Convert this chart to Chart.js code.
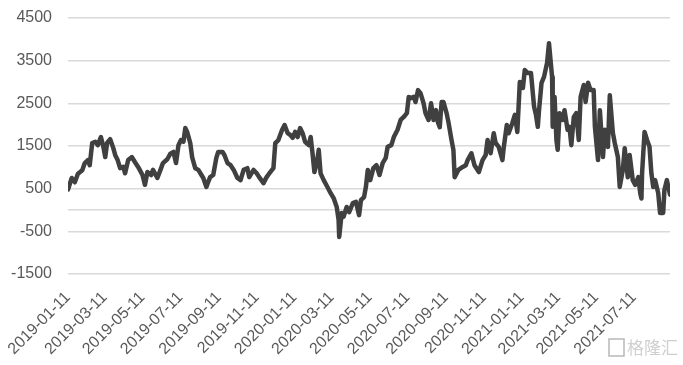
<!DOCTYPE html>
<html>
<head>
<meta charset="utf-8">
<script src="https://cdn.jsdelivr.net/npm/chart.js@4/dist/chart.umd.min.js"></script>
<style>
  html, body { margin: 0; padding: 0; background: #fff; }
  #wrap { width: 683px; height: 365px; position: relative; }
</style>
</head>
<body>
<div id="wrap"><canvas id="myChart" width="683" height="365"></canvas></div>
<script>
const startDate = '2019-01-11';

// dates
const dates = [
  '2019-01-11','2019-01-17','2019-01-22','2019-01-27','2019-02-03','2019-02-07','2019-02-12','2019-02-15','2019-02-19','2019-02-24',
  '2019-02-28','2019-03-05','2019-03-09','2019-03-12','2019-03-15','2019-03-20','2019-03-25','2019-03-28','2019-04-01','2019-04-05',
  '2019-04-10','2019-04-13','2019-04-18','2019-04-24','2019-04-29','2019-05-04','2019-05-11','2019-05-15','2019-05-19','2019-05-25',
  '2019-05-28','2019-06-04','2019-06-09','2019-06-13','2019-06-20','2019-06-25','2019-06-30','2019-07-04','2019-07-08','2019-07-12',
  '2019-07-16','2019-07-19','2019-07-22','2019-07-27','2019-07-30','2019-08-04','2019-08-09','2019-08-14','2019-08-17','2019-08-22',
  '2019-08-25','2019-08-28','2019-09-02','2019-09-07','2019-09-10','2019-09-17','2019-09-20','2019-09-25','2019-09-30','2019-10-05',
  '2019-10-11','2019-10-16','2019-10-21','2019-10-27','2019-10-30','2019-11-06','2019-11-11','2019-11-15','2019-11-22','2019-11-27',
  '2019-12-01','2019-12-08','2019-12-11','2019-12-16','2019-12-22','2019-12-26','2019-12-31','2020-01-04','2020-01-08','2020-01-12',
  '2020-01-16','2020-01-20','2020-01-24','2020-01-28','2020-02-03','2020-02-06','2020-02-09','2020-02-12','2020-02-16','2020-02-19',
  '2020-02-22','2020-02-27','2020-03-04','2020-03-09','2020-03-14','2020-03-19','2020-03-22','2020-03-23','2020-03-27','2020-03-30',
  '2020-04-04','2020-04-08','2020-04-14','2020-04-19','2020-04-24','2020-04-27','2020-05-02','2020-05-05','2020-05-08','2020-05-12',
  '2020-05-17','2020-05-22','2020-05-27','2020-06-01','2020-06-06','2020-06-09','2020-06-15','2020-06-19','2020-06-25','2020-06-30',
  '2020-07-05','2020-07-10','2020-07-13','2020-07-16','2020-07-21','2020-07-24','2020-07-28','2020-08-01','2020-08-06','2020-08-09',
  '2020-08-14','2020-08-18','2020-08-22','2020-08-26','2020-08-29','2020-09-01','2020-09-04','2020-09-07','2020-09-12','2020-09-15',
  '2020-09-20','2020-09-23','2020-09-25','2020-10-01','2020-10-08','2020-10-13','2020-10-16','2020-10-22','2020-10-27','2020-11-03',
  '2020-11-09','2020-11-14','2020-11-17','2020-11-22','2020-11-27','2020-11-30','2020-12-05','2020-12-11','2020-12-13','2020-12-18',
  '2020-12-21','2020-12-27','2020-12-31','2021-01-04','2021-01-08','2021-01-13','2021-01-16','2021-01-21','2021-01-26','2021-01-31',
  '2021-02-03','2021-02-06','2021-02-08','2021-02-12','2021-02-16','2021-02-21','2021-02-24','2021-02-25','2021-03-01','2021-03-02',
  '2021-03-05','2021-03-08','2021-03-10','2021-03-13','2021-03-18','2021-03-21','2021-03-26','2021-03-29','2021-04-01','2021-04-05',
  '2021-04-09','2021-04-13','2021-04-16','2021-04-21','2021-04-24','2021-04-28','2021-05-02','2021-05-07','2021-05-09','2021-05-14',
  '2021-05-17','2021-05-22','2021-05-25','2021-05-30','2021-06-02','2021-06-07','2021-06-10','2021-06-15','2021-06-18','2021-06-23',
  '2021-06-26','2021-07-01','2021-07-04','2021-07-09','2021-07-13','2021-07-18','2021-07-21','2021-07-23','2021-07-24','2021-07-28',
  '2021-08-01','2021-08-05','2021-08-08','2021-08-11','2021-08-14','2021-08-19','2021-08-22','2021-08-27','2021-08-29','2021-09-02',
  '2021-09-07'
];

const values = [
  480, 750, 650, 850, 930, 1100, 1170, 1050, 1570, 1600,
  1520, 1710, 1480, 1240, 1570, 1660, 1450, 1290, 1170, 980,
  1010, 860, 1170, 1240, 1120, 1010, 820, 590, 890, 820,
  940, 750, 940, 1100, 1190, 1320, 1360, 1100, 1520, 1640,
  1600, 1920, 1830, 1570, 1240, 980, 940, 820, 750, 540,
  660, 770, 820, 1220, 1360, 1360, 1290, 1100, 1050, 940,
  750, 700, 940, 980, 770, 940, 860, 770, 630, 770,
  850, 980, 1570, 1640, 1880, 1990, 1800, 1760, 1690, 1830,
  1710, 1920, 1800, 1600, 1520, 1710, 1330, 890, 1100, 1410,
  860, 700, 540, 400, 280, 70, -230, -630, -70, -160,
  70, -50, 160, 190, -120, 230, 300, 540, 940, 700,
  980, 1050, 820, 1100, 1220, 1480, 1520, 1710, 1880, 2110,
  2180, 2270, 2650, 2620, 2650, 2530, 2810, 2740, 2500, 2270,
  2110, 2500, 2110, 2340, 2060, 1940, 2530, 2530, 2270, 2060,
  1640, 1410, 770, 940, 1010, 1050, 1170, 1330, 1050, 890,
  1170, 1290, 1640, 1330, 1800, 1570, 1480, 1170, 1450, 1990,
  1800, 2040, 2230, 1830, 3000, 2860, 3280, 3210, 3210, 2420,
  2230, 1950, 2340, 2980, 3120, 3450, 3910, 3750, 3120, 1950,
  2650, 1640, 1410, 2270, 2110, 2340, 1880, 1950, 1520, 2180,
  2270, 1640, 2650, 2930, 2530, 2980, 2810, 2810, 1950, 1170,
  2340, 1240, 1880, 1480, 2690, 1800, 1570, 1240, 540, 940,
  1450, 770, 1290, 700, 590, 770, 400, 270, 860, 1830,
  1640, 1480, 860, 540, 700, 400, -70, -70, 470, 700,
  360
];

// x axis tick labels, every two months
const tickDates = [
  '2019-01-11','2019-03-11','2019-05-11','2019-07-11','2019-09-11','2019-11-11',
  '2020-01-11','2020-03-11','2020-05-11','2020-07-11','2020-09-11','2020-11-11',
  '2021-01-11','2021-03-11','2021-05-11','2021-07-11'
];

// y axis gridlines (0 is the unlabelled axis line)
const yTicks = [-1500, -500, 0, 500, 1500, 2500, 3500, 4500];

const dayOf = d => (Date.parse(d) - Date.parse(startDate)) / 86400000;

// watermark in the bottom right corner
const watermark = {
  id: 'watermark',
  afterDraw(chart) {
    const ctx = chart.ctx;
    ctx.save();
    ctx.strokeStyle = '#b8b8b8';
    ctx.lineWidth = 1.5;
    ctx.strokeRect(609, 339, 15, 17);
    ctx.font = '17px "Noto Sans CJK SC"';
    ctx.fillStyle = '#cfcfcf';
    ctx.textBaseline = 'middle';
    ctx.fillText('格隆汇', 627, 348);
    ctx.restore();
  }
};

const ctx = document.getElementById('myChart').getContext('2d');
new Chart(ctx, {
  type: 'line',
  data: {
    datasets: [{
      data: dates.map((d, i) => ({ x: dayOf(d), y: values[i] })),
      borderColor: '#404040',
      borderWidth: 4.5,
      pointRadius: 0,
      tension: 0,
      borderJoinStyle: 'round',
      borderCapStyle: 'round'
    }]
  },
  options: {
    responsive: false,
    animation: false,
    layout: { padding: { top: 18, right: 13, left: 0, bottom: 0 } },
    plugins: { legend: { display: false }, tooltip: { enabled: false } },
    scales: {
      x: {
        type: 'linear',
        min: 0,
        max: dayOf(dates[dates.length - 1]),
        grid: { display: false },
        border: { display: false },
        afterBuildTicks: scale => { scale.ticks = tickDates.map(d => ({ value: dayOf(d) })); },
        afterFit: scale => { scale.height = 91; },
        ticks: {
          autoSkip: false,
          maxRotation: 45,
          minRotation: 45,
          padding: 6,
          color: '#595959',
          font: { family: '"Liberation Sans", Arial, sans-serif', size: 16 },
          callback: (v, i) => tickDates[i]
        }
      },
      y: {
        min: -1500,
        max: 4500,
        border: { display: false },
        grid: { color: '#d9d9d9', lineWidth: 1.5, drawTicks: false },
        afterBuildTicks: scale => { scale.ticks = yTicks.map(v => ({ value: v })); },
        afterFit: scale => {
          scale.width = 68;
          scale.paddingTop = 0;
          scale.paddingBottom = 0;
        },
        ticks: {
          padding: 16,
          color: '#595959',
          font: { family: '"Liberation Sans", Arial, sans-serif', size: 16 },
          callback: v => (v === 0 ? '' : String(v))
        }
      }
    }
  },
  plugins: [watermark]
});
</script>
</body>
</html>
